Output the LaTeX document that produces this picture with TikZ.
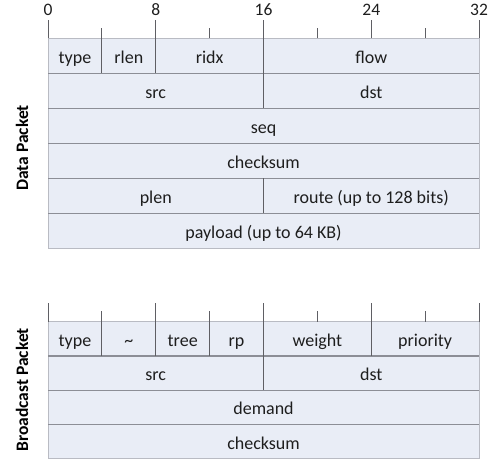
\documentclass[tikz,border=0pt]{standalone}
\usepackage{fontspec}
\setmainfont{Carlito}
\definecolor{cellfill}{RGB}{233,237,246}
\definecolor{rowline}{RGB}{140,142,150}
\definecolor{frameline}{RGB}{185,187,195}
\definecolor{sepline}{RGB}{95,95,100}
\definecolor{textcol}{RGB}{30,30,30}

% bit -> x position (pt): x0 = 48, one bit = 13.47
\newcommand\bx[1]{{48+(#1)*13.47}}

% a field cell: name, first bit, last bit (exclusive), top, bottom, label
\newcommand\pktfield[6]{%
  \node[field, minimum width={((#3)-(#2))*13.47}, minimum height={(#5)-(#4)}]
    (#1) at ({48+((#2)+(#3))/2*13.47},{((#4)+(#5))/2}) {#6};}

\begin{document}
\begin{tikzpicture}[x=1pt,y=-1pt,
  field/.style={inner sep=0pt, outer sep=0pt, fill=cellfill, text=textcol,
    text height=17pt, text depth=2pt, font=\fontsize{18}{21}\selectfont},
  bitlabel/.style={inner sep=0pt, text=textcol, font=\fontsize{17.5}{20}\selectfont},
  sidelabel/.style={inner sep=0pt, rotate=90, text=black, font=\fontsize{17.5}{20}\selectfont\bfseries},
  rowsep/.style={draw=rowline, line width=1.2pt},
  frame/.style={draw=frameline, line width=1pt},
  colsep/.style={draw=sepline, line width=0.9pt},
  tick/.style={draw=sepline, line width=0.9pt}]
\useasboundingbox (0,0) rectangle (493,459);

% ---------------- Data packet ----------------
\pktfield{dtype}{0}{4}{38.3}{73.3}{type}
\pktfield{drlen}{4}{8}{38.3}{73.3}{rlen}
\pktfield{dridx}{8}{16}{38.3}{73.3}{ridx}
\pktfield{dflow}{16}{32}{38.3}{73.3}{flow}
\pktfield{dsrc}{0}{16}{73.3}{108.3}{src}
\pktfield{ddst}{16}{32}{73.3}{108.3}{dst}
\pktfield{dseq}{0}{32}{108.3}{143.3}{seq}
\pktfield{dcsum}{0}{32}{143.3}{178.3}{checksum}
\pktfield{dplen}{0}{16}{178.3}{213.3}{plen}
\pktfield{droute}{16}{32}{178.3}{213.3}{route (up to 128 bits)}
\pktfield{dpay}{0}{32}{213.3}{248.3}{payload (up to 64 KB)}

\draw[frame] (dtype.north west) rectangle (dpay.south east);
\foreach \r in {dsrc,dseq,dcsum,dplen,dpay}
  \draw[rowsep] (\r.north west) -- (\r.north west -| dflow.east);
\foreach \c in {drlen,dridx,dflow,ddst,droute}
  \draw[colsep] (\c.north west) -- (\c.south west);

% bit ruler above the data packet
\foreach \b in {0,8,16,24,32} {
  \coordinate (dt\b) at (\bx{\b},38.3);
  \draw[tick] (dt\b) -- ++(0,-18.3);
  \node[bitlabel] (dl\b) at (\bx{\b},10) {\b};
}
\foreach \b in {4,12,20,28} {
  \coordinate (dt\b) at (\bx{\b},38.3);
  \draw[tick] (dt\b) -- ++(0,-10);
}
\node[sidelabel] (dlabel) at (22,148) {Data Packet};

% ---------------- Broadcast packet ----------------
\pktfield{btype}{0}{4}{321.7}{356}{type}
\pktfield{bnone}{4}{8}{321.7}{356}{\textasciitilde}
\pktfield{btree}{8}{12}{321.7}{356}{tree}
\pktfield{brp}{12}{16}{321.7}{356}{rp}
\pktfield{bweight}{16}{24}{321.7}{356}{weight}
\pktfield{bprio}{24}{32}{321.7}{356}{priority}
\pktfield{bsrc}{0}{16}{356}{390.3}{src}
\pktfield{bdst}{16}{32}{356}{390.3}{dst}
\pktfield{bdem}{0}{32}{390.3}{424.6}{demand}
\pktfield{bcsum}{0}{32}{424.6}{458.9}{checksum}

\draw[frame] (btype.north west) rectangle (bcsum.south east);
\foreach \r in {bsrc,bdem,bcsum}
  \draw[rowsep] (\r.north west) -- (\r.north west -| bprio.east);
\foreach \c in {bnone,btree,brp,bweight,bprio,bdst}
  \draw[colsep] (\c.north west) -- (\c.south west);

% bit ruler above the broadcast packet
\foreach \b in {0,8,16,24,32} {
  \coordinate (bt\b) at (\bx{\b},321.7);
  \draw[tick] (bt\b) -- ++(0,-18.4);
}
\foreach \b in {4,12,20,28} {
  \coordinate (bt\b) at (\bx{\b},321.7);
  \draw[tick] (bt\b) -- ++(0,-10.7);
}
\node[sidelabel] (blabel) at (22,390) {Broadcast Packet};
\end{tikzpicture}
\end{document}
